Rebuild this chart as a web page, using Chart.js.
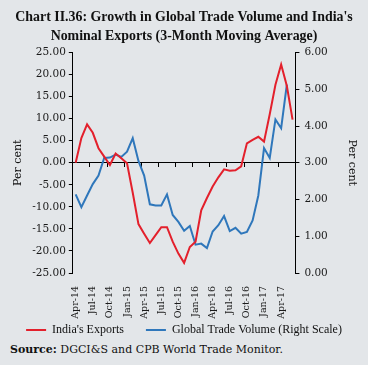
<!DOCTYPE html>
<html>
<head>
<meta charset="utf-8">
<script src="https://cdn.jsdelivr.net/npm/chart.js@4.4.0/dist/chart.umd.min.js"></script>
<style>
  body { margin: 0; background: #e3e6e9; }
  #wrap { position: relative; width: 368px; height: 346px; }
  #source { font-family: 'DejaVu Serif', serif; font-size: 11px; color: #111; padding-left: 10px; margin-top: -3px; }
</style>
</head>
<body>
<div id="wrap"><canvas id="chart"></canvas></div>
<div id="source"><b>Source:</b> DGCI&amp;S and CPB World Trade Monitor.</div>
<script>
// monthly, Apr-14 .. Jun-17
var months = ['Apr-14','May-14','Jun-14','Jul-14','Aug-14','Sep-14','Oct-14','Nov-14','Dec-14',
  'Jan-15','Feb-15','Mar-15','Apr-15','May-15','Jun-15','Jul-15','Aug-15','Sep-15','Oct-15','Nov-15','Dec-15',
  'Jan-16','Feb-16','Mar-16','Apr-16','May-16','Jun-16','Jul-16','Aug-16','Sep-16','Oct-16','Nov-16','Dec-16',
  'Jan-17','Feb-17','Mar-17','Apr-17','May-17','Jun-17'];

// India's exports, per cent (left scale)
var indiaExports = [0, 5.6, 8.7, 6.8, 3.3, 1.4, -0.5, 2.1, 1.0, -0.1, -6.8, -13.9, -16.1,
  -18.2, -16.4, -14.6, -14.6, -17.9, -20.6, -22.7, -19.1, -17.9, -10.8, -8.0, -5.4,
  -3.3, -1.5, -1.8, -1.7, -0.8, 4.4, 5.2, 5.9, 4.8, 11.0, 17.7, 22.3, 17.4, 9.8];

// global trade volume, per cent (right scale)
var globalTrade = [2.14, 1.79, 2.11, 2.42, 2.65, 3.13, 3.14, 3.22, 3.16, 3.30, 3.67, 3.05, 2.65,
  1.87, 1.84, 1.84, 2.14, 1.58, 1.39, 1.15, 1.28, 0.77, 0.80, 0.68, 1.13,
  1.30, 1.55, 1.14, 1.23, 1.07, 1.12, 1.43, 2.11, 3.40, 3.13, 4.18, 3.94, 5.13, null];

Chart.defaults.font.family = "'DejaVu Serif', serif";
Chart.defaults.font.size = 10.5;
Chart.defaults.color = '#1a1a1a';

// x labels overlap the legend's top padding, so widen their clip box
var labelRoom = {
  id: 'labelRoom',
  afterLayout: function(chart) {
    var x = chart.scales.x;
    x.bottom = x.top + 48;
  }
};

var ctx = document.getElementById('chart');
var myChart = new Chart(ctx, {
  type: 'line',
  data: {
    labels: months,
    datasets: [
      {
        label: "India's Exports",
        data: indiaExports,
        borderColor: '#e3202c',
        backgroundColor: '#e3202c',
        borderWidth: 2,
        pointRadius: 0,
        yAxisID: 'y'
      },
      {
        label: 'Global Trade Volume (Right Scale)',
        data: globalTrade,
        borderColor: '#2f77bb',
        backgroundColor: '#2f77bb',
        borderWidth: 2,
        pointRadius: 0,
        yAxisID: 'y2'
      }
    ]
  },
  plugins: [labelRoom],
  options: {
    animation: false,
    responsive: true,
    maintainAspectRatio: false,
    layout: { padding: 0 },
    plugins: {
      title: {
        display: true,
        text: ["Chart II.36: Growth in Global Trade Volume and India's", 'Nominal Exports (3-Month Moving Average)'],
        font: { family: "'Liberation Serif', serif", size: 13.9, weight: 'bold', lineHeight: 1.35 },
        color: '#111',
        padding: { top: 8, bottom: 7 }
      },
      legend: {
        position: 'bottom',
        labels: {
          usePointStyle: true,
          pointStyle: 'line',
          pointStyleWidth: 20,
          padding: 22,
          color: '#111',
          font: { family: "'Liberation Serif', serif", size: 12 }
        }
      },
      tooltip: { enabled: false }
    },
    scales: {
      x: {
        offset: true,
        grid: { display: false },
        border: { display: false },
        ticks: {
          autoSkip: false,
          minRotation: 90,
          maxRotation: 90,
          padding: 5,
          font: { size: 9.5 },
          callback: function(v, i) { return i % 3 === 0 ? months[i] : ''; }
        },
        afterFit: function(scale) { scale.height = 29; }
      },
      // zero line with quarterly tick marks
      x0: {
        type: 'category',
        axis: 'x',
        position: { y: 0 },
        offset: true,
        grid: {
          offset: true,
          drawOnChartArea: false,
          tickLength: 4,
          tickColor: function(c) { return (c.index > 0 && c.index % 3 === 0) ? '#000' : 'rgba(0,0,0,0)'; }
        },
        border: { color: '#000', width: 1 },
        ticks: { display: false, autoSkip: false }
      },
      y: {
        position: 'left',
        min: -25,
        max: 25,
        grid: { drawOnChartArea: false, tickLength: 4, color: '#000' },
        border: { color: '#000' },
        ticks: { stepSize: 5, padding: 3, callback: function(v) { return v.toFixed(2); } },
        title: { display: true, text: 'Per cent', color: '#111', font: { size: 11 }, padding: { top: 12, bottom: 4 } }
      },
      y2: {
        position: 'right',
        min: 0,
        max: 6,
        grid: { drawOnChartArea: false, tickLength: 4, color: '#000' },
        border: { color: '#000' },
        ticks: { stepSize: 1, padding: 5, callback: function(v) { return v.toFixed(2); } },
        title: { display: true, text: 'Per cent', color: '#111', font: { size: 11 }, padding: { top: 10, bottom: 12 } }
      }
    }
  }
});
</script>
</body>
</html>
